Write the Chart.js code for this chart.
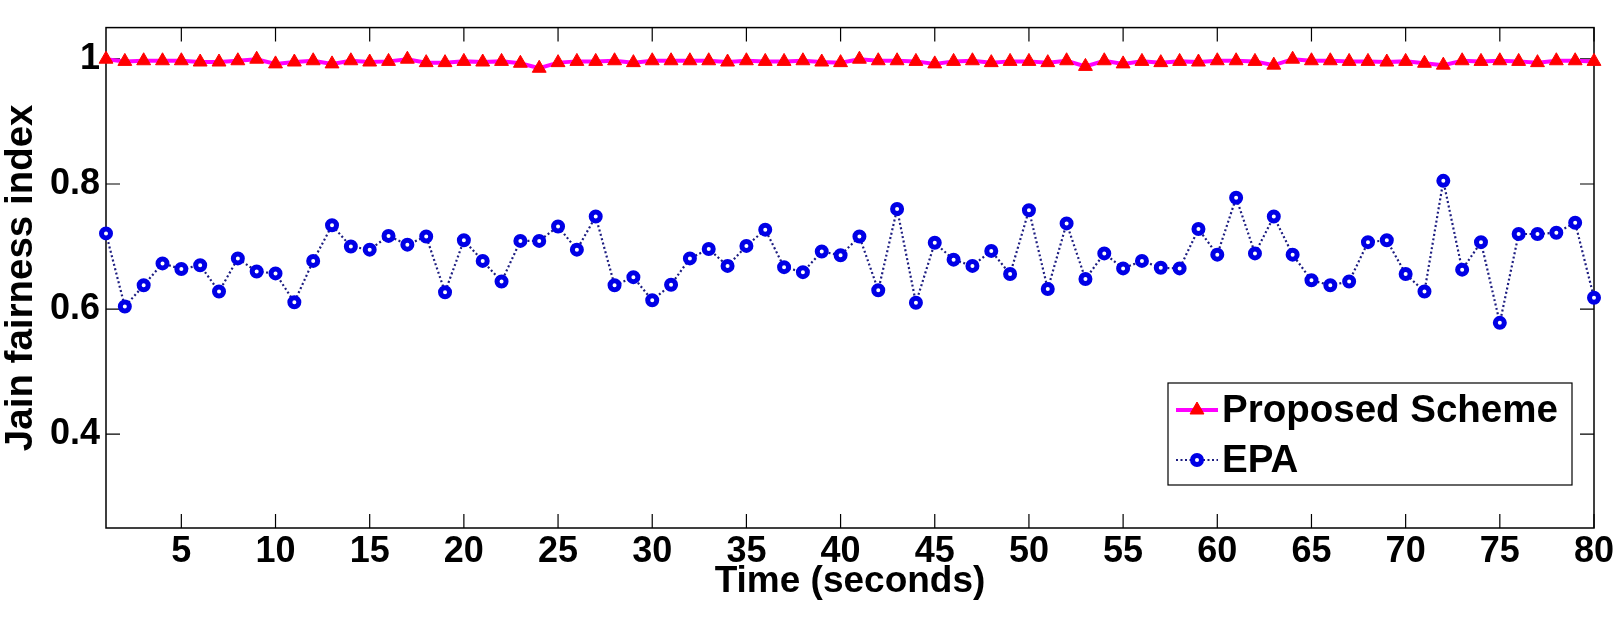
<!DOCTYPE html>
<html>
<head>
<meta charset="utf-8">
<title>Jain fairness index</title>
<script src="https://cdn.jsdelivr.net/npm/chart.js@4/dist/chart.umd.min.js"></script>
<style>
  html, body { margin: 0; padding: 0; background: #fff; }
  #wrap { width: 1617px; height: 617px; position: relative; }
</style>
</head>
<body>
<div id="wrap"><canvas id="chart"></canvas></div>
<script>
const timeSeconds = Array.from({ length: 80 }, (_, i) => i + 1);

const proposedScheme = [
  0.9995, 0.996, 0.997, 0.997, 0.997, 0.995, 0.995, 0.997, 0.9995, 0.992,
  0.995, 0.997, 0.992, 0.997, 0.995, 0.996, 0.9995, 0.994, 0.994, 0.996,
  0.995, 0.996, 0.993, 0.985, 0.994, 0.996, 0.996, 0.997, 0.994, 0.997,
  0.997, 0.997, 0.997, 0.995, 0.997, 0.996, 0.996, 0.997, 0.995, 0.994,
  0.9995, 0.997, 0.997, 0.996, 0.992, 0.996, 0.997, 0.994, 0.996, 0.996,
  0.994, 0.997, 0.988, 0.997, 0.992, 0.996, 0.994, 0.996, 0.995, 0.997,
  0.997, 0.996, 0.990, 0.9995, 0.997, 0.997, 0.996, 0.996, 0.995, 0.996,
  0.993, 0.990, 0.997, 0.996, 0.997, 0.996, 0.994, 0.997, 0.997, 0.996
];

const epa = [
  0.721, 0.604, 0.638, 0.673, 0.664, 0.670, 0.628, 0.681, 0.660, 0.657,
  0.611, 0.677, 0.734, 0.700, 0.695, 0.717, 0.703, 0.716, 0.627, 0.710,
  0.677, 0.644, 0.709, 0.709, 0.732, 0.695, 0.748, 0.638, 0.651, 0.614,
  0.639, 0.681, 0.696, 0.669, 0.701, 0.727, 0.667, 0.659, 0.692, 0.686,
  0.716, 0.630, 0.760, 0.610, 0.706, 0.679, 0.669, 0.693, 0.656, 0.758,
  0.632, 0.737, 0.648, 0.689, 0.665, 0.677, 0.666, 0.665, 0.728, 0.687,
  0.778, 0.689, 0.748, 0.687, 0.646, 0.638, 0.644, 0.707, 0.710, 0.656,
  0.628, 0.805, 0.663, 0.707, 0.578, 0.720, 0.720, 0.722, 0.738, 0.618
];

const xTicks = [5, 10, 15, 20, 25, 30, 35, 40, 45, 50, 55, 60, 65, 70, 75, 80];
const yTicks = [0.4, 0.6, 0.8, 1];
const seriesNames = ["Proposed Scheme", "EPA"];

const FONT = "'Liberation Sans', Arial, Helvetica, sans-serif";

// axes box with inward ticks on all four sides, like the matlab figure
const framePlugin = {
  id: "frame",
  beforeDatasetsDraw(chart) {
    const { ctx, chartArea: a, scales } = chart;
    const len = 14;
    ctx.save();
    ctx.strokeStyle = "#000";
    ctx.lineWidth = 1.5;
    ctx.strokeRect(a.left, a.top, a.right - a.left, a.bottom - a.top);
    ctx.lineWidth = 1.2;
    ctx.beginPath();
    xTicks.forEach(v => {
      const px = scales.x.getPixelForValue(v);
      ctx.moveTo(px, a.bottom); ctx.lineTo(px, a.bottom - len);
      ctx.moveTo(px, a.top); ctx.lineTo(px, a.top + len);
    });
    yTicks.forEach(v => {
      const py = scales.y.getPixelForValue(v);
      ctx.moveTo(a.left, py); ctx.lineTo(a.left + len, py);
      ctx.moveTo(a.right, py); ctx.lineTo(a.right - len, py);
    });
    ctx.stroke();
    ctx.restore();
  }
};

// boxed legend in the lower right of the plot
const legendPlugin = {
  id: "boxLegend",
  afterDraw(chart) {
    const { ctx } = chart;
    const box = { x: 1168, y: 383, w: 404, h: 102 };
    const rows = [410, 460];
    ctx.save();
    ctx.fillStyle = "#fff";
    ctx.fillRect(box.x, box.y, box.w, box.h);
    ctx.strokeStyle = "#000";
    ctx.lineWidth = 1.2;
    ctx.strokeRect(box.x, box.y, box.w, box.h);

    chart.data.datasets.forEach((ds, i) => {
      const y = rows[i];
      ctx.save();
      ctx.strokeStyle = ds.borderColor;
      ctx.lineWidth = ds.borderWidth;
      ctx.setLineDash(ds.borderDash || []);
      ctx.beginPath();
      ctx.moveTo(1176, y);
      ctx.lineTo(1218, y);
      ctx.stroke();
      ctx.restore();

      ctx.save();
      ctx.fillStyle = ds.pointBackgroundColor;
      ctx.strokeStyle = ds.pointBorderColor;
      ctx.lineWidth = ds.pointBorderWidth;
      Chart.helpers.drawPoint(ctx, {
        pointStyle: ds.pointStyle,
        radius: ds.pointRadius,
        rotation: 0,
        borderWidth: ds.pointBorderWidth
      }, 1197, y);
      ctx.restore();

      ctx.fillStyle = "#000";
      ctx.font = "bold 38.5px " + FONT;
      ctx.textBaseline = "middle";
      ctx.textAlign = "left";
      ctx.fillText(ds.label, 1222, y + 1);
    });
    ctx.restore();
  }
};

const ctx = document.getElementById("chart").getContext("2d");

new Chart(ctx, {
  type: "line",
  data: {
    datasets: [
      {
        label: seriesNames[0],
        data: timeSeconds.map((t, i) => ({ x: t, y: proposedScheme[i] })),
        borderColor: "#ff00ff",
        borderWidth: 4,
        pointStyle: "triangle",
        pointRadius: 8,
        pointBackgroundColor: "#ff0000",
        pointBorderColor: "#ff0000",
        pointBorderWidth: 1,
        tension: 0,
        clip: false
      },
      {
        label: seriesNames[1],
        data: timeSeconds.map((t, i) => ({ x: t, y: epa[i] })),
        borderColor: "#1c1c80",
        borderWidth: 2.2,
        borderDash: [2, 2.5],
        pointStyle: "circle",
        pointRadius: 4.5,
        pointBackgroundColor: "#ffffff",
        pointBorderColor: "#0000e6",
        pointBorderWidth: 5,
        tension: 0,
        clip: false
      }
    ]
  },
  options: {
    responsive: true,
    maintainAspectRatio: false,
    animation: false,
    layout: { padding: { left: 0, top: 17, right: 23, bottom: 0 } },
    plugins: {
      legend: { display: false },
      tooltip: { enabled: false }
    },
    scales: {
      x: {
        type: "linear",
        min: 1,
        max: 80,
        grid: { display: false, drawTicks: false },
        border: { display: false },
        afterBuildTicks: s => { s.ticks = xTicks.map(v => ({ value: v })); },
        afterFit: s => { s.height = 89; },
        ticks: {
          padding: 2,
          maxRotation: 0,
          autoSkip: false,
          color: "#000",
          font: { family: FONT, size: 36, weight: "bold" },
          callback: v => String(v)
        },
        title: {
          display: true,
          text: "Time (seconds)",
          color: "#000",
          padding: { top: 0, bottom: 17 },
          font: { family: FONT, size: 37, weight: "bold", lineHeight: 1 }
        }
      },
      y: {
        min: 0.25,
        max: 1.05,
        grid: { display: false, drawTicks: false },
        border: { display: false },
        afterBuildTicks: s => { s.ticks = yTicks.map(v => ({ value: v })); },
        afterFit: s => { s.width = 106; },
        ticks: {
          padding: 6,
          autoSkip: false,
          color: "#000",
          font: { family: FONT, size: 36, weight: "bold" },
          callback: v => String(v)
        },
        title: {
          display: true,
          text: "Jain fairness index",
          color: "#000",
          padding: { top: 2, bottom: 0 },
          font: { family: FONT, size: 38.5, weight: "bold", lineHeight: 1 }
        }
      }
    }
  },
  plugins: [framePlugin, legendPlugin]
});
</script>
</body>
</html>
